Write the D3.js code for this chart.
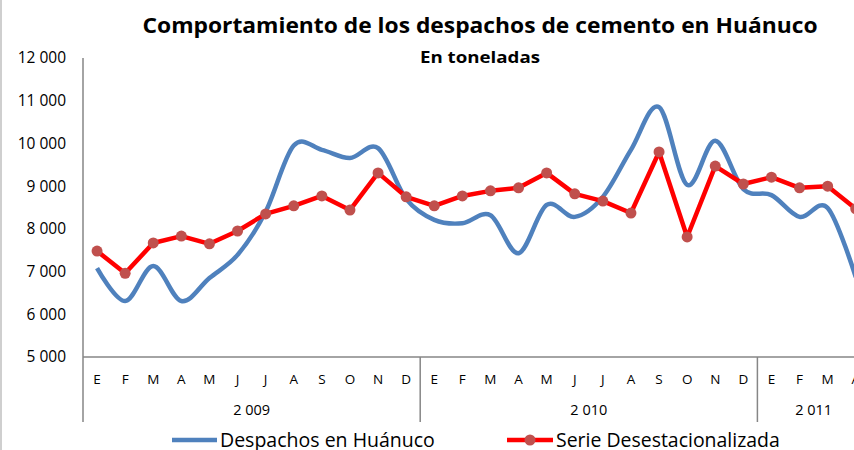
<!DOCTYPE html>
<html>
<head>
<meta charset="utf-8">
<script src="https://cdn.jsdelivr.net/npm/d3@7"></script>
<style>
    body { margin: 0; background: #fff; }
    text { font-family: "Open Sans", "Noto Sans", sans-serif; fill: #000; }
</style>
</head>
<body>
<script>
(function(){

    //month labels, year groups and both series (tonnes)
    var months = ["E","F","M","A","M","J","J","A","S","O","N","D",
                  "E","F","M","A","M","J","J","A","S","O","N","D",
                  "E","F","M","A"];
    var years = [2009, 2010, 2011];
    var monthsPerYear = [12, 12, 4];
    var despachos = [7080, 6310, 7130, 6310, 6850, 7390, 8400, 9950, 9850, 9660, 9890, 8700,
                     8210, 8130, 8320, 7430, 8560, 8280, 8750, 9850, 10850, 9030, 10060, 8930,
                     8790, 8280, 8490, 6870];
    var desestacionalizada = [7480, 6960, 7670, 7830, 7650, 7950, 8350, 8540, 8770, 8440, 9310, 8750,
                              8540, 8770, 8890, 8960, 9310, 8820, 8650, 8370, 9800, 7810, 9470, 9050,
                              9210, 8960, 9000, 8470];
    var yTicks = [5000, 6000, 7000, 8000, 9000, 10000, 11000, 12000];
    var seriesNames = ["Despachos en Huánuco", "Serie Desestacionalizada"];

    var width = 854, height = 450;
    var axisX = 83, step = 28.1;

    var svg = d3.select("body")
        .append("svg")
        .attr("width", width)
        .attr("height", height);

    //shrink/grow a text's font so it spans the wanted width
    function fitWidth(sel, target){
        var fs = parseFloat(sel.style("font-size"));
        var w = sel.node().getComputedTextLength();
        if (w > 0) sel.style("font-size", (fs * target / w) + "px");
    }

    //left frame border
    svg.append("line")
        .attr("x1", 1).attr("x2", 1)
        .attr("y1", 0).attr("y2", height)
        .style("stroke", "#bfbfbf")
        .style("stroke-width", 1.5);

    //titles
    svg.append("text")
        .attr("x", 480)
        .attr("y", 33)
        .attr("text-anchor", "middle")
        .attr("textLength", 675)
        .attr("lengthAdjust", "spacingAndGlyphs")
        .style("font-size", "22px")
        .style("font-weight", "bold")
        .text("Comportamiento de los despachos de cemento en  Huánuco");

    svg.append("text")
        .attr("x", 480)
        .attr("y", 63)
        .attr("text-anchor", "middle")
        .attr("textLength", 120)
        .attr("lengthAdjust", "spacingAndGlyphs")
        .style("font-size", "16px")
        .style("font-weight", "bold")
        .text("En toneladas");

    //scales
    var x = d3.scaleBand()
        .domain(d3.range(months.length))
        .range([axisX, axisX + step * months.length]);

    var y = d3.scaleLinear()
        .domain([5000, 12000])
        .range([357, 58]);

    var fmt = function(v){ return d3.format(",")(v).replace(/,/g, " "); };

    //y axis
    var yAxis = svg.append("g")
        .attr("transform", "translate(" + axisX + ",0)")
        .call(d3.axisLeft(y).tickValues(yTicks).tickSize(0).tickPadding(17).tickFormat(fmt));
    yAxis.select(".domain").remove();
    yAxis.selectAll("text")
        .style("font-family", "'Open Sans', sans-serif")
        .style("font-size", "15.5px")
        .attr("fill", "#000");

    svg.append("line")
        .attr("x1", axisX).attr("x2", axisX)
        .attr("y1", y(12000)).attr("y2", 422)
        .style("stroke", "#868686")
        .style("stroke-width", 1.5);

    //x axis
    svg.append("line")
        .attr("x1", axisX).attr("x2", width)
        .attr("y1", y(5000)).attr("y2", y(5000))
        .style("stroke", "#868686")
        .style("stroke-width", 1.5);

    svg.selectAll(".month")
        .data(months)
        .enter()
        .append("text")
        .attr("class", "month")
        .attr("x", function(d, i){ return x(i) + x.bandwidth() / 2; })
        .attr("y", 379)
        .attr("dy", "0.35em")
        .attr("text-anchor", "middle")
        .style("font-size", "13.5px")
        .text(function(d){ return d; });

    //year groups with separators
    var start = 0;
    years.forEach(function(yr, k){
        var n = monthsPerYear[k];
        var x0 = x(start), x1 = x(start) + step * n;
        if (k > 0){
            svg.append("line")
                .attr("x1", x0).attr("x2", x0)
                .attr("y1", y(5000)).attr("y2", 422)
                .style("stroke", "#868686")
                .style("stroke-width", 1.5);
        }
        svg.append("text")
            .attr("x", (x0 + x1) / 2)
            .attr("y", 410)
            .attr("dy", "0.35em")
            .attr("text-anchor", "middle")
            .style("font-size", "14.5px")
            .text(fmt(yr));
        start += n;
    });

    //lines
    var cx = function(d, i){ return x(i) + x.bandwidth() / 2; };

    var smooth = d3.line()
        .x(cx)
        .y(function(d){ return y(d); })
        .curve(d3.curveCatmullRom.alpha(0));

    var straight = d3.line()
        .x(cx)
        .y(function(d){ return y(d); });

    svg.append("path")
        .datum(despachos)
        .attr("d", smooth)
        .style("fill", "none")
        .style("stroke", "#4f81bd")
        .style("stroke-width", 4.5)
        .style("stroke-linejoin", "round");

    svg.append("path")
        .datum(desestacionalizada)
        .attr("d", straight)
        .style("fill", "none")
        .style("stroke", "#ff0000")
        .style("stroke-width", 4.5)
        .style("stroke-linejoin", "round");

    svg.selectAll(".marker")
        .data(desestacionalizada)
        .enter()
        .append("circle")
        .attr("class", "marker")
        .attr("cx", cx)
        .attr("cy", function(d){ return y(d); })
        .attr("r", 5.5)
        .style("fill", "#c0504d");

    //legend
    var leg = svg.append("g");
    leg.append("line")
        .attr("x1", 172).attr("x2", 217)
        .attr("y1", 440).attr("y2", 440)
        .style("stroke", "#4f81bd")
        .style("stroke-width", 4.5);
    var t1 = leg.append("text")
        .attr("x", 220)
        .attr("y", 440)
        .attr("dy", "0.35em")
        .style("font-size", "19px")
        .text(seriesNames[0]);
    fitWidth(t1, 215);

    leg.append("line")
        .attr("x1", 507).attr("x2", 553)
        .attr("y1", 440).attr("y2", 440)
        .style("stroke", "#ff0000")
        .style("stroke-width", 4.5);
    leg.append("circle")
        .attr("cx", 530).attr("cy", 440)
        .attr("r", 5.5)
        .style("fill", "#c0504d");
    var t2 = leg.append("text")
        .attr("x", 556)
        .attr("y", 440)
        .attr("dy", "0.35em")
        .style("font-size", "19px")
        .text(seriesNames[1]);
    fitWidth(t2, 224);

})();
</script>
</body>
</html>
